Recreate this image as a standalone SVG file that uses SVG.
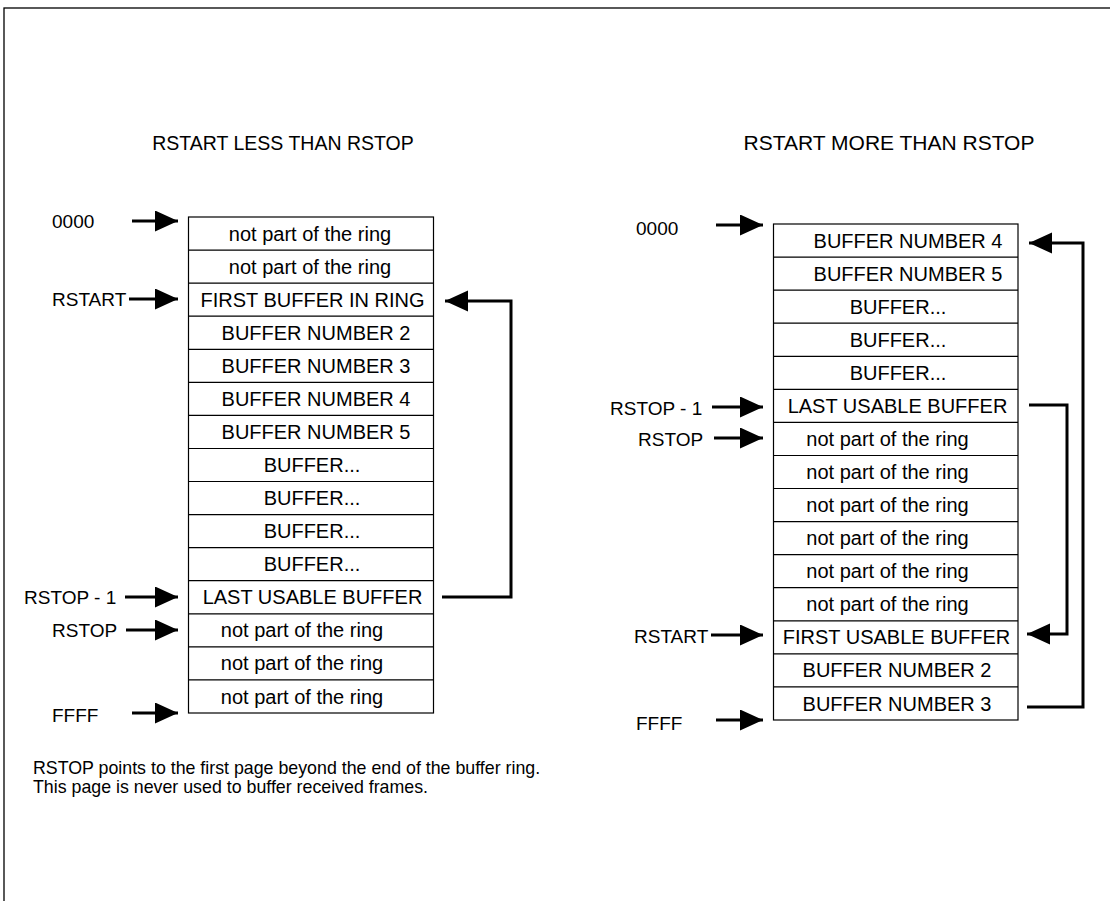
<svg xmlns="http://www.w3.org/2000/svg" width="1110" height="901" viewBox="0 0 1110 901">
<style>
text{font-family:"Liberation Sans",Arial,sans-serif;font-size:20px;fill:#000}
.c{text-anchor:middle}
.lb{font-size:19px}
.cell{fill:#fff;stroke:#000;stroke-width:1.2}
.ar{stroke:#000;stroke-width:3;fill:none}
</style>
<defs>
<marker id="ah" markerUnits="userSpaceOnUse" markerWidth="24" markerHeight="22" refX="23" refY="10.5" orient="auto">
<path d="M0,0 L23,10.5 L0,21 z" fill="#000"/>
</marker>
</defs>
<rect x="4" y="8" width="1200" height="1000" fill="#fff" stroke="#000" stroke-width="1.3"/>
<text class="c" x="283" y="150" style="font-size:19.5px">RSTART LESS THAN RSTOP</text>
<text class="c" x="889" y="150" style="font-size:21px">RSTART MORE THAN RSTOP</text>

<g id="left-stack">
<rect class="cell" x="188.5" y="217" width="245" height="496"/>
<path d="M188.5,250.1H433.5M188.5,283.1H433.5M188.5,316.2H433.5M188.5,349.3H433.5M188.5,382.3H433.5M188.5,415.4H433.5M188.5,448.5H433.5M188.5,481.5H433.5M188.5,514.6H433.5M188.5,547.7H433.5M188.5,580.7H433.5M188.5,613.8H433.5M188.5,646.9H433.5M188.5,679.9H433.5" stroke="#000" stroke-width="1.2"/>
<text class="c" x="310" y="240.5">not part of the ring</text>
<text class="c" x="310" y="273.6">not part of the ring</text>
<text class="c" x="312.5" y="306.7">FIRST BUFFER IN RING</text>
<text class="c" x="316" y="339.7">BUFFER NUMBER 2</text>
<text class="c" x="316" y="372.8">BUFFER NUMBER 3</text>
<text class="c" x="316" y="405.9">BUFFER NUMBER 4</text>
<text class="c" x="316" y="438.9">BUFFER NUMBER 5</text>
<text class="c" x="312" y="472">BUFFER...</text>
<text class="c" x="312" y="505.1">BUFFER...</text>
<text class="c" x="312" y="538.1">BUFFER...</text>
<text class="c" x="312" y="571.2">BUFFER...</text>
<text class="c" x="312.5" y="604.3">LAST USABLE BUFFER</text>
<text class="c" x="302" y="637.3">not part of the ring</text>
<text class="c" x="302" y="670.4">not part of the ring</text>
<text class="c" x="302" y="703.5">not part of the ring</text>
</g>

<g id="right-stack">
<rect class="cell" x="773.5" y="224" width="244.5" height="496"/>
<path d="M773.5,257.1H1018M773.5,290.1H1018M773.5,323.2H1018M773.5,356.3H1018M773.5,389.3H1018M773.5,422.4H1018M773.5,455.5H1018M773.5,488.5H1018M773.5,521.6H1018M773.5,554.7H1018M773.5,587.7H1018M773.5,620.8H1018M773.5,653.9H1018M773.5,686.9H1018" stroke="#000" stroke-width="1.2"/>
<text class="c" x="908" y="247.5">BUFFER NUMBER 4</text>
<text class="c" x="908" y="280.6">BUFFER NUMBER 5</text>
<text class="c" x="898" y="313.7">BUFFER...</text>
<text class="c" x="898" y="346.7">BUFFER...</text>
<text class="c" x="898" y="379.8">BUFFER...</text>
<text class="c" x="897.5" y="412.9">LAST USABLE BUFFER</text>
<text class="c" x="887.5" y="445.9">not part of the ring</text>
<text class="c" x="887.5" y="479">not part of the ring</text>
<text class="c" x="887.5" y="512.1">not part of the ring</text>
<text class="c" x="887.5" y="545.1">not part of the ring</text>
<text class="c" x="887.5" y="578.2">not part of the ring</text>
<text class="c" x="887.5" y="611.3">not part of the ring</text>
<text class="c" x="896.5" y="644.3">FIRST USABLE BUFFER</text>
<text class="c" x="897" y="677.4">BUFFER NUMBER 2</text>
<text class="c" x="897" y="710.5">BUFFER NUMBER 3</text>
</g>

<g id="left-labels">
<text class="lb" x="52" y="228">0000</text>
<text class="lb" x="52" y="306">RSTART</text>
<text class="lb" x="24" y="604">RSTOP - 1</text>
<text class="lb" x="52" y="637">RSTOP</text>
<text class="lb" x="52" y="722">FFFF</text>
</g>
<g id="right-labels">
<text class="lb" x="636" y="235">0000</text>
<text class="lb" x="610" y="415">RSTOP - 1</text>
<text class="lb" x="638" y="446">RSTOP</text>
<text class="lb" x="634" y="643">RSTART</text>
<text class="lb" x="636" y="730">FFFF</text>
</g>

<g id="connectors">
<line class="ar" x1="132" y1="221" x2="178" y2="221" marker-end="url(#ah)"/>
<line class="ar" x1="129" y1="299" x2="178" y2="299" marker-end="url(#ah)"/>
<line class="ar" x1="125" y1="597" x2="178" y2="597" marker-end="url(#ah)"/>
<line class="ar" x1="126" y1="630" x2="178" y2="630" marker-end="url(#ah)"/>
<line class="ar" x1="132" y1="713" x2="178" y2="713" marker-end="url(#ah)"/>
<line class="ar" x1="716" y1="225" x2="763" y2="225" marker-end="url(#ah)"/>
<line class="ar" x1="712" y1="407" x2="763" y2="407" marker-end="url(#ah)"/>
<line class="ar" x1="714" y1="438" x2="763" y2="438" marker-end="url(#ah)"/>
<line class="ar" x1="711" y1="635" x2="763" y2="635" marker-end="url(#ah)"/>
<line class="ar" x1="716" y1="720" x2="763" y2="720" marker-end="url(#ah)"/>
<path class="ar" d="M442,597 H511 V301 H445" marker-end="url(#ah)"/>
<path class="ar" d="M1027,707 H1083 V243 H1029" marker-end="url(#ah)"/>
<path class="ar" d="M1029,405 H1067 V634 H1027" marker-end="url(#ah)"/>
</g>

<text x="33" y="774" style="font-size:17.8px">RSTOP points to the first page beyond the end of the buffer ring.</text>
<text x="33" y="793" style="font-size:17.8px">This page is never used to buffer received frames.</text>
</svg>
